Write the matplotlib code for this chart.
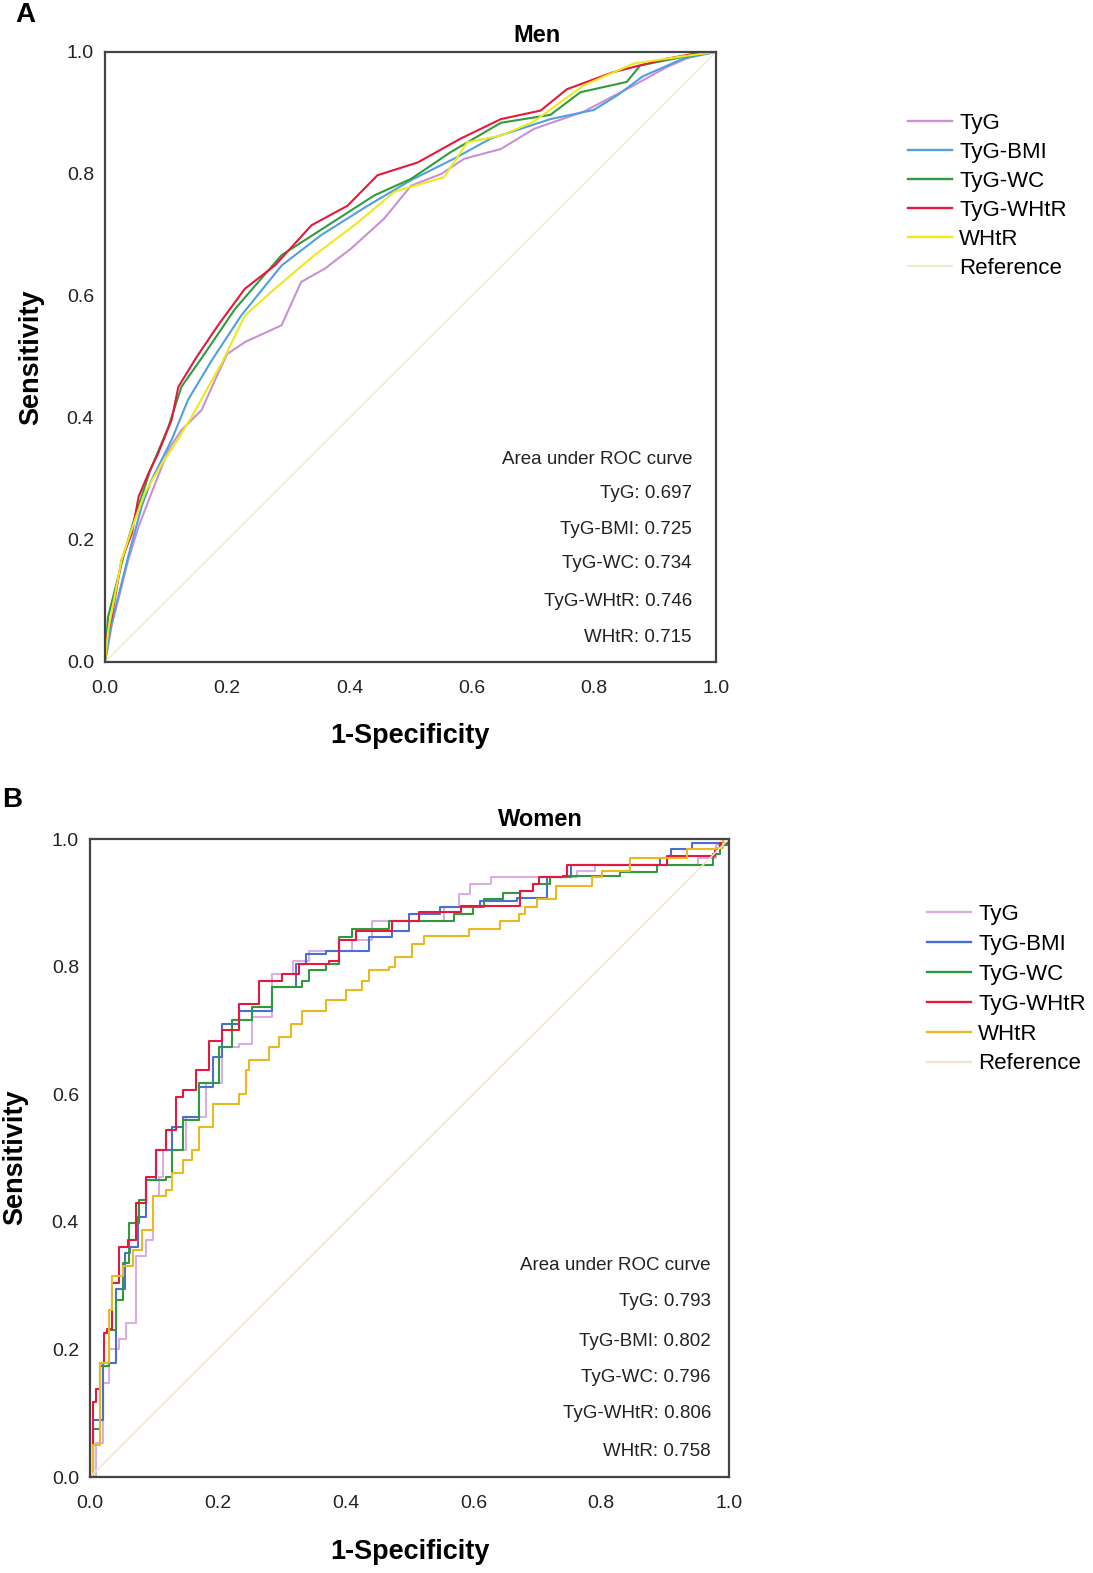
import numpy as np
import matplotlib
matplotlib.use("Agg")
import matplotlib.pyplot as plt

plt.rcParams['font.family'] = ['Liberation Sans', 'DejaVu Sans']

W, H = 1093, 1573

labels = ['TyG', 'TyG-BMI', 'TyG-WC', 'TyG-WHtR', 'WHtR', 'Reference']

# ---------------- panel A: men ----------------
men_tyg_x = [0, 0.011, 0.038, 0.055, 0.076, 0.104, 0.125, 0.158, 0.185, 0.20, 0.23, 0.289, 0.321, 0.36, 0.403,
             0.457, 0.501, 0.55, 0.588, 0.648, 0.702, 0.783, 0.865, 0.919, 0.974, 1.0]
men_tyg_y = [0, 0.06, 0.167, 0.222, 0.277, 0.348, 0.380, 0.413, 0.473, 0.505, 0.525, 0.552, 0.623, 0.645, 0.678,
             0.727, 0.781, 0.80, 0.825, 0.841, 0.874, 0.902, 0.945, 0.975, 0.999, 1.0]
men_bmi_x = [0, 0.01, 0.038, 0.060, 0.076, 0.109, 0.136, 0.175, 0.223, 0.289, 0.354, 0.430, 0.501, 0.571, 0.631,
             0.729, 0.80, 0.84, 0.88, 0.946, 1.0]
men_bmi_y = [0, 0.06, 0.173, 0.255, 0.298, 0.364, 0.430, 0.495, 0.568, 0.650, 0.700, 0.748, 0.790, 0.825, 0.858,
             0.890, 0.905, 0.93, 0.96, 0.989, 1.0]
men_wc_x = [0, 0.005, 0.033, 0.049, 0.074, 0.104, 0.125, 0.158, 0.213, 0.289, 0.365, 0.441, 0.501, 0.566, 0.648,
            0.729, 0.778, 0.854, 0.876, 0.946, 1.0]
men_wc_y = [0, 0.074, 0.184, 0.238, 0.314, 0.386, 0.451, 0.498, 0.579, 0.667, 0.716, 0.765, 0.792, 0.836, 0.884,
            0.897, 0.934, 0.951, 0.978, 0.992, 1.0]
men_whtr_tyg_x = [0, 0.003, 0.011, 0.027, 0.044, 0.055, 0.071, 0.087, 0.109, 0.120, 0.150, 0.185, 0.229, 0.278,
                  0.338, 0.397, 0.446, 0.512, 0.582, 0.615, 0.648, 0.713, 0.756, 0.832, 0.919, 0.974, 1.0]
men_whtr_tyg_y = [0, 0.041, 0.074, 0.167, 0.211, 0.271, 0.309, 0.342, 0.397, 0.451, 0.500, 0.552, 0.612, 0.650,
                  0.716, 0.748, 0.798, 0.819, 0.858, 0.874, 0.890, 0.904, 0.939, 0.967, 0.989, 0.999, 1.0]
men_whtr_x = [0, 0.005, 0.027, 0.049, 0.065, 0.093, 0.115, 0.142, 0.169, 0.191, 0.229, 0.278, 0.343, 0.408, 0.474,
              0.555, 0.593, 0.648, 0.702, 0.783, 0.865, 0.946, 1.0]
men_whtr_y = [0, 0.05, 0.167, 0.233, 0.277, 0.325, 0.358, 0.402, 0.451, 0.490, 0.568, 0.612, 0.667, 0.716, 0.771,
              0.795, 0.852, 0.863, 0.886, 0.945, 0.981, 0.993, 1.0]
men_auc = [0.697, 0.725, 0.734, 0.746, 0.715]

# ---------------- panel B: women ----------------
wom_tyg_x = [0, 0.009, 0.02, 0.03, 0.046, 0.056, 0.072, 0.0875, 0.098, 0.108, 0.114, 0.150, 0.181, 0.207, 0.233,
             0.254, 0.285, 0.317, 0.343, 0.410, 0.442, 0.473, 0.554, 0.577, 0.595, 0.627, 0.694, 0.762, 0.79, 0.856,
             0.952, 0.98, 1.0]
wom_tyg_y = [0, 0.054, 0.148, 0.2, 0.216, 0.242, 0.346, 0.372, 0.44, 0.47, 0.5125, 0.565, 0.617, 0.674, 0.679,
             0.721, 0.789, 0.809, 0.825, 0.841, 0.872, 0.872, 0.893, 0.914, 0.929, 0.940, 0.940, 0.950, 0.96, 0.960,
             0.971, 0.99, 1.0]
wom_bmi_x = [0, 0.004, 0.02, 0.041, 0.054, 0.063, 0.0745, 0.0875, 0.103, 0.129, 0.145, 0.171, 0.192, 0.207, 0.233,
             0.275, 0.285, 0.322, 0.3375, 0.369, 0.421, 0.436, 0.473, 0.499, 0.548, 0.611, 0.668, 0.715, 0.752,
             0.892, 0.910, 0.942, 0.99, 1.0]
wom_bmi_y = [0, 0.09, 0.179, 0.294, 0.351, 0.36, 0.408, 0.466, 0.5125, 0.549, 0.565, 0.611, 0.658, 0.710, 0.731,
             0.731, 0.768, 0.804, 0.820, 0.825, 0.825, 0.846, 0.856, 0.882, 0.893, 0.903, 0.908, 0.940, 0.960,
             0.971, 0.984, 0.994, 1.0, 1.0]
wom_wc_x = [0, 0.004, 0.015, 0.030, 0.041, 0.051, 0.061, 0.077, 0.0875, 0.119, 0.129, 0.145, 0.171, 0.202, 0.223,
            0.254, 0.285, 0.332, 0.343, 0.369, 0.390, 0.410, 0.468, 0.517, 0.569, 0.600, 0.616, 0.647, 0.673, 0.694,
            0.72, 0.746, 0.83, 0.887, 0.975, 0.986, 1.0]
wom_wc_y = [0, 0.075, 0.174, 0.231, 0.278, 0.335, 0.398, 0.434, 0.466, 0.471, 0.5125, 0.559, 0.617, 0.674, 0.716,
            0.736, 0.768, 0.778, 0.794, 0.804, 0.846, 0.859, 0.872, 0.872, 0.882, 0.893, 0.906, 0.916, 0.919, 0.929,
            0.94, 0.942, 0.948, 0.960, 0.976, 0.99, 1.0]
wom_whtr_tyg_x = [0, 0.004, 0.009, 0.015, 0.022, 0.027, 0.035, 0.046, 0.059, 0.072, 0.0875, 0.103, 0.119, 0.134,
                  0.145, 0.166, 0.186, 0.207, 0.233, 0.265, 0.301, 0.327, 0.374, 0.390, 0.416, 0.473, 0.515, 0.580,
                  0.668, 0.673, 0.694, 0.702, 0.741, 0.746, 0.819, 0.897, 0.903, 0.975, 0.978, 0.986, 1.0]
wom_whtr_tyg_y = [0, 0.117, 0.1375, 0.179, 0.226, 0.232, 0.304, 0.361, 0.372, 0.429, 0.471, 0.5125, 0.544, 0.596,
                  0.606, 0.638, 0.684, 0.700, 0.742, 0.778, 0.789, 0.804, 0.809, 0.841, 0.856, 0.872, 0.885, 0.895,
                  0.895, 0.919, 0.929, 0.940, 0.942, 0.960, 0.960, 0.960, 0.973, 0.973, 0.984, 0.994, 1.0]
wom_whtr_x = [0, 0.004, 0.015, 0.030, 0.035, 0.051, 0.067, 0.082, 0.098, 0.119, 0.129, 0.145, 0.160, 0.171, 0.192,
              0.218, 0.233, 0.244, 0.249, 0.275, 0.280, 0.296, 0.314, 0.332, 0.364, 0.369, 0.400, 0.426, 0.436,
              0.468, 0.478, 0.504, 0.522, 0.590, 0.593, 0.642, 0.671, 0.681, 0.699, 0.730, 0.785, 0.801, 0.83,
              0.845, 0.934, 0.98, 0.99, 1.0]
wom_whtr_y = [0, 0.05, 0.179, 0.2625, 0.315, 0.33, 0.356, 0.3875, 0.44, 0.45, 0.476, 0.497, 0.5125, 0.549, 0.585,
              0.585, 0.601, 0.638, 0.653, 0.653, 0.674, 0.690, 0.710, 0.731, 0.731, 0.747, 0.763, 0.778, 0.794,
              0.799, 0.815, 0.836, 0.848, 0.848, 0.859, 0.872, 0.882, 0.893, 0.906, 0.927, 0.94, 0.95, 0.95,
              0.971, 0.984, 0.986, 1.0, 1.0]
wom_auc = [0.793, 0.802, 0.796, 0.806, 0.758]

ticks = [0.0, 0.2, 0.4, 0.6, 0.8, 1.0]
tick_labels = ['0.0', '0.2', '0.4', '0.6', '0.8', '1.0']

men_colors = ['#c990d2', '#4f9fe3', '#2f9c3e', '#e8173d', '#ecea1c', '#efead2']
wom_colors = ['#d9aee3', '#4a6fd2', '#2e9a3c', '#e5193e', '#e9b923', '#efe6cb']


def fx(px):
    return px / W


def fy(py):
    return 1 - py / H


fig = plt.figure(figsize=(W / 100, H / 100), dpi=100)


def panel(box, series, colors, auc, step, title, title_xy, ylab_xy, xlab_xy, auc_right, auc_ys, leg_xy, leg_sp,
          letter, letter_xy):
    l, t, r, b = box
    ax = fig.add_axes([fx(l), fy(b), fx(r) - fx(l), fy(t) - fy(b)])
    for (xs, ys), c in zip(series, colors[:5]):
        if step:
            ax.plot(xs, ys, color=c, lw=1.5, drawstyle='steps-post')
        else:
            ax.plot(xs, ys, color=c, lw=1.5)
    ax.plot([0, 1], [0, 1], color=colors[5], lw=1.1)
    ax.set_xlim(0, 1)
    ax.set_ylim(0, 1)
    ax.set_xticks(ticks)
    ax.set_xticklabels(tick_labels)
    ax.set_yticks(ticks)
    ax.set_yticklabels(tick_labels)
    ax.tick_params(length=0, labelsize=14, colors='#222222')
    ax.tick_params(axis='x', pad=13)
    ax.tick_params(axis='y', pad=8)
    for s in ax.spines.values():
        s.set_linewidth(1.6)
        s.set_color('#444444')

    fig.text(fx(title_xy[0]), fy(title_xy[1]), title, fontsize=17, fontweight='bold', ha='center', va='center')
    fig.text(fx(ylab_xy[0]), fy(ylab_xy[1]), 'Sensitivity', fontsize=19.5, fontweight='bold', rotation=90,
             ha='center', va='center')
    fig.text(fx(xlab_xy[0]), fy(xlab_xy[1]), '1-Specificity', fontsize=19.5, fontweight='bold',
             ha='center', va='center')
    fig.text(fx(letter_xy[0]), fy(letter_xy[1]), letter, fontsize=20, fontweight='bold', ha='center', va='center')

    lines = ['Area under ROC curve'] + ['%s: %.3f' % (n, a) for n, a in zip(labels[:5], auc)]
    for txt, yy in zip(lines, auc_ys):
        fig.text(fx(auc_right), fy(yy + 3), txt, fontsize=13.5, ha='right', va='center', color='#222222')

    handles = [plt.Line2D([], [], color=c, lw=1.7) for c in colors]
    fig.legend(handles, labels, loc='upper left', bbox_to_anchor=(fx(leg_xy[0]), fy(leg_xy[1])),
               bbox_transform=fig.transFigure, frameon=False, fontsize=16, handlelength=2.0,
               handletextpad=0.3, labelspacing=leg_sp, borderpad=0, borderaxespad=0)
    return ax


panel((105, 52, 716, 662),
      [(men_tyg_x, men_tyg_y), (men_bmi_x, men_bmi_y), (men_wc_x, men_wc_y),
       (men_whtr_tyg_x, men_whtr_tyg_y), (men_whtr_x, men_whtr_y)],
      men_colors, men_auc, False, 'Men', (537, 35), (31, 357), (410, 736), 692,
      [456, 491, 526, 561, 598, 634], (908, 113), 0.36, 'A', (25, 15))

panel((90, 839, 729, 1477),
      [(wom_tyg_x, wom_tyg_y), (wom_bmi_x, wom_bmi_y), (wom_wc_x, wom_wc_y),
       (wom_whtr_tyg_x, wom_whtr_tyg_y), (wom_whtr_x, wom_whtr_y)],
      wom_colors, wom_auc, True, 'Women', (540, 820), (15, 1157), (410, 1552), 711,
      [1263, 1299, 1338, 1375, 1411, 1448], (927, 904), 0.4, 'B', (12, 800))

fig.savefig('out.png', dpi=100)
